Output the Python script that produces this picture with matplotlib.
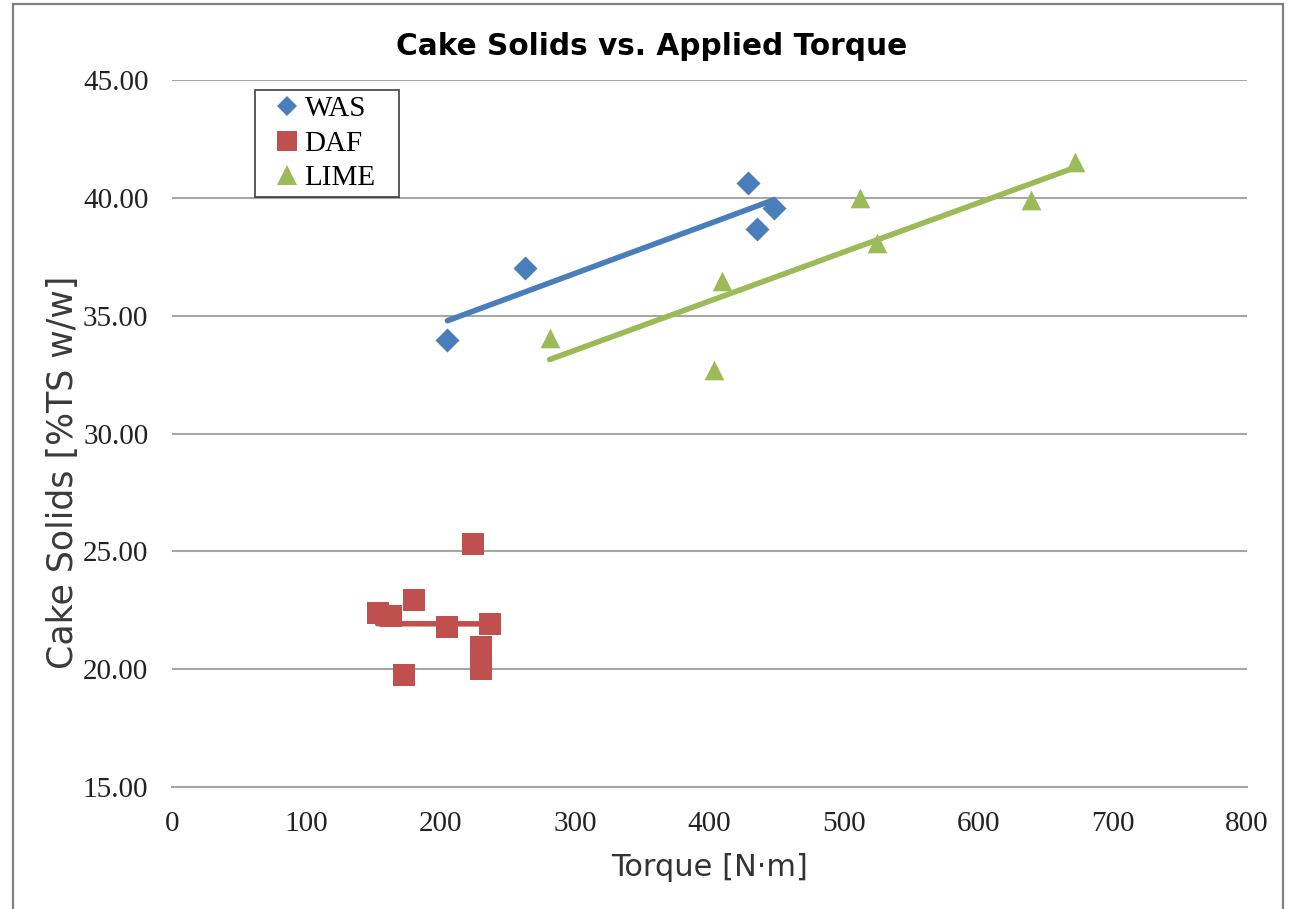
import matplotlib
matplotlib.use("Agg")
import matplotlib.pyplot as plt
from matplotlib.lines import Line2D
from matplotlib.patches import Rectangle
import numpy as np

# data
was_torque = [205, 263, 429, 435, 448]
was_solids = [33.97, 37.04, 40.62, 38.67, 39.58]

daf_torque = [153, 163, 180, 205, 237, 230, 230, 173, 224]
daf_solids = [22.39, 22.24, 22.94, 21.80, 21.92, 20.96, 20.00, 19.75, 25.33]

lime_torque = [281, 403, 409, 512, 525, 639, 672]
lime_solids = [34.04, 32.70, 36.45, 39.98, 38.07, 39.91, 41.53]

x_ticks = [0, 100, 200, 300, 400, 500, 600, 700, 800]
y_ticks = [15, 20, 25, 30, 35, 40, 45]

BLUE = '#4A7EBB'
RED = '#C0504D'
GREEN = '#9BBB59'
GRID = '#A6A6A6'


def trend(ax, x, y, color):
    # linear trendline over the range of the data, like the spreadsheet one
    k, b = np.polyfit(x, y, 1)
    xs = np.array([min(x), max(x)])
    ax.plot(xs, k * xs + b, color=color, lw=4, solid_capstyle='round', zorder=2)


def main():
    fig = plt.figure(figsize=(12.9, 9.09), dpi=100)
    ax = fig.add_axes([172 / 1290, 1 - 787 / 909, 1075 / 1290, 707 / 909])

    # outer frame of the chart area
    fig.patches.append(Rectangle((13 / 1290, -0.05), 1270 / 1290, 1 - 4 / 909 + 0.05,
                                 transform=fig.transFigure, fill=False,
                                 edgecolor='#808080', lw=1.6))

    ax.scatter(was_torque, was_solids, marker='D', s=150, color=BLUE, zorder=3, linewidths=0)
    ax.scatter(daf_torque, daf_solids, marker='s', s=230, color=RED, zorder=3, linewidths=0)
    ax.scatter(lime_torque, lime_solids, marker='^', s=200, color=GREEN, zorder=3, linewidths=0)

    trend(ax, was_torque, was_solids, BLUE)
    trend(ax, daf_torque, daf_solids, RED)
    trend(ax, lime_torque, lime_solids, GREEN)

    ax.set_xlim(0, 800)
    ax.set_ylim(15, 45)
    ax.set_xticks(x_ticks)
    ax.set_yticks(y_ticks)
    ax.set_yticklabels(['%.2f' % v for v in y_ticks])
    ax.yaxis.grid(True, color=GRID, lw=1.5)
    ax.set_axisbelow(True)
    for s in ['left', 'right', 'top']:
        ax.spines[s].set_visible(False)
    ax.spines['bottom'].set_color(GRID)
    ax.spines['bottom'].set_linewidth(1.5)
    ax.tick_params(length=0, labelsize=21, pad=17)
    for lab in ax.get_xticklabels() + ax.get_yticklabels():
        lab.set_family('Liberation Serif')
        lab.set_color('#222222')

    ax.set_xlabel('Torque [N·m]', fontsize=22, color='#333333')
    ax.xaxis.set_label_coords(0.5, -0.093)
    ax.set_ylabel('Cake Solids [%TS w/w]', fontsize=25, color='#3a3a3a')
    ax.yaxis.set_label_coords(-0.086, 0.445)

    fig.text(652 / 1290, 1 - 55 / 909, 'Cake Solids vs. Applied Torque',
             fontsize=21.3, fontweight='bold', ha='center', va='baseline')

    handles = [
        Line2D([], [], ls='none', marker='D', ms=10, color=BLUE, mew=0),
        Line2D([], [], ls='none', marker='s', ms=15, color=RED, mew=0),
        Line2D([], [], ls='none', marker='^', ms=14, color=GREEN, mew=0),
    ]
    lx = (255 - 172) / 1075
    ly = (787 - 90) / 707
    lw = 144 / 1075
    leg = ax.legend(handles, ['WAS', 'DAF', 'LIME'], loc='upper left',
                    bbox_to_anchor=(lx, ly - 0.1, lw, 0.1), mode='expand',
                    prop={'family': 'Liberation Serif', 'size': 21},
                    frameon=True, fancybox=False, edgecolor='#222222',
                    handlelength=1.8, handletextpad=-0.3, borderpad=0.2,
                    labelspacing=0.28, borderaxespad=0)
    leg.get_frame().set_linewidth(1.3)

    fig.savefig('out.png', dpi=100)


if __name__ == '__main__':
    main()
